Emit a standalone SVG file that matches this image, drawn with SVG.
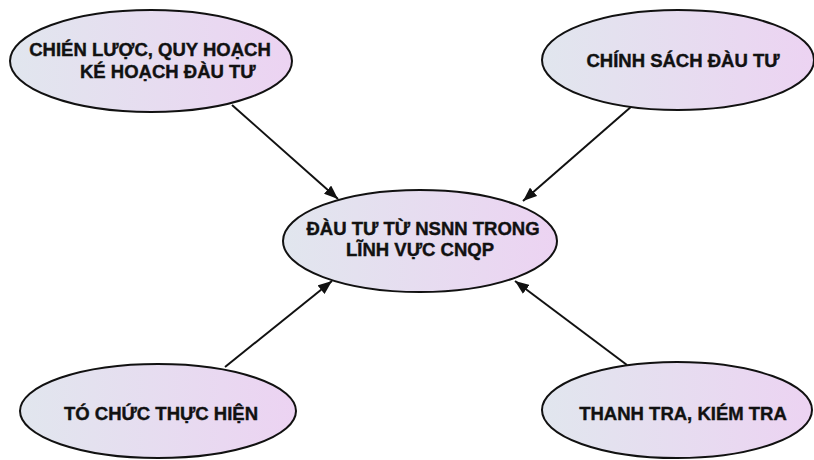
<svg xmlns="http://www.w3.org/2000/svg" width="814" height="460" viewBox="0 0 814 460">
<style>
.n{fill:url(#g);stroke:#111;stroke-width:2}
.t{font-family:"Liberation Sans",Arial,sans-serif;font-weight:bold;font-size:18.5px;fill:#111;stroke:#111;stroke-width:0.4}
.c{stroke:#111;stroke-width:2;fill:none;marker-end:url(#a)}
</style>
<defs>
<linearGradient id="g" x1="0" y1="0" x2="1" y2="0">
<stop offset="0" stop-color="#e1e6ee"/>
<stop offset="1" stop-color="#ecd3f2"/>
</linearGradient>
<marker id="a" viewBox="0 0 14 11" refX="14" refY="5.5" markerWidth="14" markerHeight="11" markerUnits="userSpaceOnUse" orient="auto">
<path d="M0,0 L14,5.5 L0,11 z" fill="#111"/>
</marker>
</defs>
<rect width="814" height="460" fill="#fff"/>
<g id="connectors">
<line class="c" x1="232" y1="105" x2="338" y2="199"/>
<line class="c" x1="632" y1="106" x2="523" y2="201"/>
<line class="c" x1="225" y1="367" x2="332" y2="281"/>
<line class="c" x1="627" y1="365" x2="515" y2="281"/>
</g>
<g id="n1">
<ellipse class="n" cx="151" cy="61" rx="141" ry="51"/>
<text class="t" x="150" y="56" text-anchor="middle">CHIÉN LƯỢC, QUY HOẠCH</text>
<text class="t" x="80" y="78">KÉ HOẠCH ĐÀU TƯ</text>
</g>
<g id="n2">
<ellipse class="n" cx="678" cy="60" rx="136" ry="50"/>
<text class="t" x="683" y="67" text-anchor="middle">CHÍNH SÁCH ĐÀU TƯ</text>
</g>
<g id="n0">
<ellipse class="n" cx="420" cy="241" rx="137" ry="51"/>
<text class="t" x="423" y="235" text-anchor="middle">ĐÀU TƯ TỪ NSNN TRONG</text>
<text class="t" x="420" y="256" text-anchor="middle">LĨNH VỰC CNQP</text>
</g>
<g id="n3">
<ellipse class="n" cx="158" cy="411" rx="138" ry="47"/>
<text class="t" x="161" y="420" text-anchor="middle">TÓ CHỨC THỰC HIỆN</text>
</g>
<g id="n4">
<ellipse class="n" cx="677" cy="410" rx="135" ry="48"/>
<text class="t" x="683" y="420" text-anchor="middle">THANH TRA, KIÉM TRA</text>
</g>
</svg>
